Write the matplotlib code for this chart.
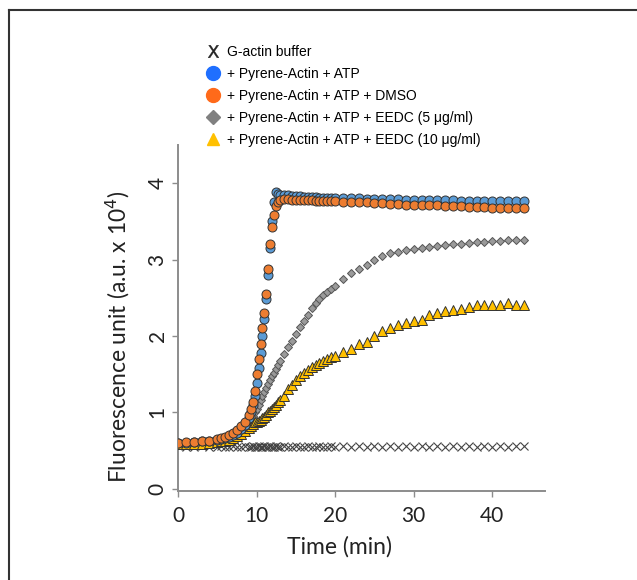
import matplotlib
matplotlib.use("Agg")
import matplotlib.pyplot as plt
from matplotlib.lines import Line2D

# time points (min)
time = [0, 1, 2, 3, 4, 5, 5.5, 6, 6.5, 7, 7.5, 8, 8.5, 9,
        9.25, 9.5, 9.75, 10, 10.25, 10.5, 10.75, 11, 11.25, 11.5, 11.75, 12, 12.25, 12.5, 12.75, 13,
        13.5, 14, 14.5, 15, 15.5, 16, 16.5, 17, 17.5, 18, 18.5, 19, 19.5, 20,
        21, 22, 23, 24, 25, 26, 27, 28, 29, 30, 31, 32, 33, 34, 35, 36, 37, 38, 39, 40, 41, 42, 43, 44]

buffer = [0.56, 0.55, 0.55, 0.56, 0.55, 0.55, 0.56, 0.55, 0.55, 0.56, 0.55, 0.55, 0.56, 0.55,
          0.55, 0.56, 0.55, 0.55, 0.56, 0.55, 0.55, 0.56, 0.55, 0.55, 0.56, 0.55, 0.55, 0.56, 0.55, 0.55,
          0.56, 0.55, 0.55, 0.56, 0.55, 0.55, 0.56, 0.55, 0.55, 0.56, 0.55, 0.55, 0.56, 0.55,
          0.56, 0.55, 0.56, 0.55, 0.56, 0.55, 0.56, 0.55, 0.56, 0.55, 0.56, 0.55, 0.56, 0.55,
          0.56, 0.55, 0.56, 0.55, 0.56, 0.55, 0.56, 0.55, 0.56, 0.56]

atp = [0.60, 0.60, 0.61, 0.62, 0.63, 0.64, 0.65, 0.66, 0.68, 0.70, 0.73, 0.78, 0.84, 0.93,
       1.00, 1.10, 1.22, 1.38, 1.58, 1.78, 2.00, 2.22, 2.48, 2.80, 3.15, 3.50, 3.75, 3.88, 3.86, 3.85,
       3.84, 3.84, 3.83, 3.83, 3.83, 3.82, 3.82, 3.82, 3.82, 3.81, 3.81, 3.81, 3.81, 3.80,
       3.80, 3.80, 3.80, 3.79, 3.79, 3.79, 3.79, 3.79, 3.78, 3.78, 3.78, 3.78, 3.78, 3.78,
       3.78, 3.77, 3.77, 3.77, 3.77, 3.77, 3.77, 3.77, 3.77, 3.77]

dmso = [0.60, 0.61, 0.61, 0.62, 0.63, 0.65, 0.66, 0.68, 0.70, 0.73, 0.77, 0.82, 0.88, 0.97,
        1.04, 1.14, 1.28, 1.50, 1.70, 1.90, 2.10, 2.30, 2.55, 2.88, 3.20, 3.42, 3.58, 3.70, 3.76, 3.78,
        3.79, 3.79, 3.78, 3.78, 3.78, 3.78, 3.78, 3.78, 3.77, 3.77, 3.77, 3.77, 3.77, 3.77,
        3.76, 3.76, 3.75, 3.75, 3.74, 3.74, 3.73, 3.73, 3.72, 3.72, 3.72, 3.71, 3.71, 3.70,
        3.70, 3.70, 3.69, 3.69, 3.69, 3.68, 3.68, 3.68, 3.67, 3.67]

eedc5 = [0.58, 0.58, 0.58, 0.59, 0.59, 0.60, 0.60, 0.61, 0.62, 0.64, 0.67, 0.71, 0.78, 0.86,
         0.90, 0.95, 1.00, 1.05, 1.10, 1.16, 1.22, 1.27, 1.32, 1.37, 1.42, 1.47, 1.52, 1.57, 1.62, 1.67,
         1.76, 1.85, 1.94, 2.03, 2.12, 2.20, 2.28, 2.36, 2.43, 2.49, 2.54, 2.58, 2.62, 2.66,
         2.75, 2.82, 2.88, 2.93, 3.00, 3.05, 3.08, 3.10, 3.12, 3.14, 3.15, 3.17, 3.18, 3.19,
         3.20, 3.21, 3.22, 3.23, 3.23, 3.24, 3.24, 3.25, 3.25, 3.26]

eedc10 = [0.58, 0.58, 0.58, 0.59, 0.60, 0.61, 0.62, 0.63, 0.64, 0.66, 0.69, 0.72, 0.76, 0.80,
          0.82, 0.85, 0.87, 0.88, 0.89, 0.90, 0.92, 0.94, 0.97, 1.00, 1.02, 1.04, 1.07, 1.10, 1.13, 1.16,
          1.22, 1.30, 1.36, 1.42, 1.47, 1.51, 1.55, 1.59, 1.62, 1.65, 1.67, 1.70, 1.72, 1.74,
          1.79, 1.83, 1.89, 1.92, 2.00, 2.06, 2.10, 2.14, 2.17, 2.19, 2.21, 2.27, 2.30, 2.33,
          2.34, 2.35, 2.38, 2.40, 2.40, 2.41, 2.41, 2.43, 2.41, 2.41]

labels = ["G-actin buffer",
          "+ Pyrene-Actin + ATP",
          "+ Pyrene-Actin + ATP + DMSO",
          "+ Pyrene-Actin + ATP + EEDC (5 \u03bcg/ml)",
          "+ Pyrene-Actin + ATP + EEDC (10 \u03bcg/ml)"]

fig = plt.figure(figsize=(6.37, 5.8), dpi=100)
ax = fig.add_axes([0.2794, 0.1534, 0.5762, 0.5966])

edge = "#333333"
ax.plot(time, buffer, ls="none", marker="x", ms=6, mew=0.8, color="#444444", zorder=2)
ax.plot(time, eedc5, ls="none", marker="D", ms=4.5, mfc="#9a9a9a", mec="#555555", mew=0.7, zorder=3)
ax.plot(time, eedc10, ls="none", marker="^", ms=7.5, mfc="#ffc000", mec=edge, mew=0.7, zorder=3)
ax.plot(time, atp, ls="none", marker="o", ms=6.5, mfc="#5b9bd5", mec=edge, mew=0.7, zorder=4)
ax.plot(time, dmso, ls="none", marker="o", ms=6.5, mfc="#ed7d31", mec=edge, mew=0.7, zorder=5)

ax.set_xlim(0, 46.7)
ax.set_ylim(-0.03, 4.5)
ax.set_xticks([0, 10, 20, 30, 40])
ax.set_yticks([0, 1, 2, 3, 4])

for s in ["top", "right"]:
    ax.spines[s].set_visible(False)
for s in ["left", "bottom"]:
    ax.spines[s].set_color("#8c8c8c")
    ax.spines[s].set_linewidth(1.4)

tick_font = "Lato"
ax.tick_params(axis="both", direction="out", length=4, width=1, color="#8c8c8c",
               labelsize=15, labelcolor="#222222")
ax.tick_params(axis="x", pad=7)
for lab in ax.get_xticklabels() + ax.get_yticklabels():
    lab.set_family(tick_font)
for lab in ax.get_yticklabels():
    lab.set_rotation(90)
    lab.set_va("center")

ax.set_xlabel("Time (min)", family=tick_font, fontsize=16.5, color="#222222")
ax.set_ylabel("Fluorescence unit (a.u. x 10$^4$)", family=tick_font, fontsize=16.5,
              color="#222222")
ax.xaxis.set_label_coords(0.44, -0.13)
ax.yaxis.set_label_coords(-0.124, 0.445)

# legend
handles = [
    Line2D([], [], ls="none", marker="$\\mathrm{X}$", ms=9, mew=0.3, color="#222222"),
    Line2D([], [], ls="none", marker="o", ms=10, mfc="#1f6fff", mec="#1f6fff"),
    Line2D([], [], ls="none", marker="o", ms=10, mfc="#ff6a1a", mec="#ff6a1a"),
    Line2D([], [], ls="none", marker="D", ms=7, mfc="#808080", mec="#808080"),
    Line2D([], [], ls="none", marker="^", ms=9, mfc="#ffc000", mec="#ffc000"),
]
fig.legend(handles, labels, loc="upper left", bbox_to_anchor=(0.31, 0.935),
           frameon=False, prop={"family": "Liberation Sans", "size": 10},
           handletextpad=0.45, handlelength=1.2, labelspacing=0.58, borderpad=0)

# outer frame
fig.add_artist(Line2D([9 / 637, 9 / 637], [0, 1 - 10 / 580], color="#333333", lw=1.5))
fig.add_artist(Line2D([9 / 637, 1], [1 - 10 / 580, 1 - 10 / 580], color="#333333", lw=1.5))

fig.savefig("out.png", dpi=100)
